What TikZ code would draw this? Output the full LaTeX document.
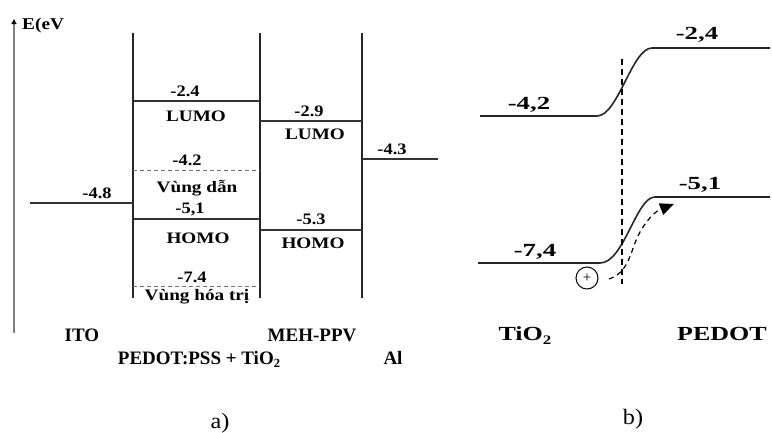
\documentclass[tikz,border=0pt]{standalone}
\usepackage{fontspec}
\setmainfont{Liberation Serif}
\usepackage{graphicx}
\usetikzlibrary{arrows.meta}
\newcommand{\wx}[2]{\scalebox{#1}[1]{#2}}
\begin{document}
\begin{tikzpicture}[x=1pt,y=-1pt,
  col/.style={line width=1.1pt, black!85},
  lvl/.style={line width=1.1pt, black!80},
  dlvl/.style={line width=1pt, black!55, dash pattern=on 4pt off 3pt},
  num/.style={inner sep=0pt, anchor=base, font=\bfseries\fontsize{16}{16}\selectfont},
  wrd/.style={inner sep=0pt, anchor=base, font=\bfseries\fontsize{16}{16}\selectfont},
  mat/.style={inner sep=0pt, anchor=base, font=\bfseries\fontsize{19}{19}\selectfont},
  rnum/.style={inner sep=0pt, anchor=base, font=\bfseries\fontsize{18.5}{18.5}\selectfont},
  rlab/.style={inner sep=0pt, anchor=base, font=\bfseries\fontsize{20}{20}\selectfont},
  caplab/.style={inner sep=0pt, anchor=base, font=\fontsize{22}{22}\selectfont},
  band/.style={line width=1.6pt, black!85},
  vdash/.style={line width=1.2pt, black, dash pattern=on 6pt off 4pt}]
\useasboundingbox (0,0) rectangle (772,432);

% ---------- panel a ----------
\coordinate (ax0) at (14,333);
\coordinate (ax1) at (14,19);
\draw[line width=1.5pt, black!50, -{Triangle[length=5pt,width=5pt,fill=black,color=black]}] (ax0) -- (ax1);
\node[inner sep=0pt, anchor=base west, font=\bfseries\fontsize{16.5}{16.5}\selectfont] (E) at (22,29) {\wx{1.17}{E(eV}};

\coordinate (c1t) at (133,33); \coordinate (c1b) at (133,298);
\coordinate (c2t) at (260,33); \coordinate (c2b) at (260,298);
\coordinate (c3t) at (362,33); \coordinate (c3b) at (362,298);
\draw[col] (c1t) -- (c1b);
\draw[col] (c2t) -- (c2b);
\draw[col] (c3t) -- (c3b);

\coordinate (ito0) at (30,203);  \coordinate (ito1) at (133,203);
\coordinate (pl0) at (133,101);  \coordinate (pl1) at (260,101);
\coordinate (pc0) at (133,170);  \coordinate (pc1) at (260,170);
\coordinate (ph0) at (133,219);  \coordinate (ph1) at (260,219);
\coordinate (pv0) at (133,286);  \coordinate (pv1) at (260,286);
\coordinate (ml0) at (260,121);  \coordinate (ml1) at (362,121);
\coordinate (mh0) at (260,230);  \coordinate (mh1) at (362,230);
\coordinate (al0) at (362,159);  \coordinate (al1) at (438,159);
\draw[lvl] (ito0) -- (ito1);
\draw[lvl] (pl0) -- (pl1);
\draw[dlvl] (pc0) -- (pc1);
\draw[lvl] (ph0) -- (ph1);
\draw[dlvl] (pv0) -- (pv1);
\draw[lvl] (ml0) -- (ml1);
\draw[lvl] (mh0) -- (mh1);
\draw[lvl] (al0) -- (al1);

\node[num] (n48) at (97,198) {\wx{1.15}{-4.8}};
\node[num] (n24) at (185,96) {\wx{1.15}{-2.4}};
\node[wrd] (lumo1) at (196,121) {\wx{1.2}{LUMO}};
\node[num] (n42) at (187,165) {\wx{1.15}{-4.2}};
\node[wrd] (vd) at (197,192) {\wx{1.2}{Vùng dẫn}};
\node[num] (n51) at (190,213) {\wx{1.15}{-5,1}};
\node[wrd] (homo1) at (198,243) {\wx{1.2}{HOMO}};
\node[num] (n74) at (192,282) {\wx{1.15}{-7.4}};
\node[wrd] (vht) at (197,300) {\wx{1.2}{Vùng hóa trị}};
\node[num] (n29) at (309,116) {\wx{1.15}{-2.9}};
\node[wrd] (lumo2) at (315,139) {\wx{1.2}{LUMO}};
\node[num] (n43) at (392,154) {\wx{1.15}{-4.3}};
\node[num] (n53) at (311,224) {\wx{1.15}{-5.3}};
\node[wrd] (homo2) at (313,248) {\wx{1.2}{HOMO}};

\node[mat] (ito) at (82,341) {ITO};
\node[mat] (meh) at (312,341) {MEH-PPV};
\node[mat] (ped) at (199,364) {PEDOT:PSS + TiO\raisebox{-3pt}{\fontsize{12.5}{12.5}\selectfont 2}};
\node[mat] (al) at (393,364) {Al};
\node[caplab] (capa) at (220,428) {\wx{1.1}{a)}};

% ---------- panel b ----------
\coordinate (u0) at (480,116); \coordinate (u1) at (597,116);
\coordinate (u2) at (652,48);  \coordinate (u3) at (770,48);
\coordinate (d0) at (478,263); \coordinate (d1) at (600,263);
\coordinate (d2) at (655,197); \coordinate (d3) at (770,197);
\draw[band] (u0) -- (u1) .. controls (618,116) and (632,48) .. (u2) -- (u3);
\draw[band] (d0) -- (d1) .. controls (624,263) and (636,197) .. (d2) -- (d3);
\coordinate (dv0) at (622,59); \coordinate (dv1) at (622,284);
\draw[vdash] (dv0) -- (dv1);

\node[rnum] (r42) at (529,109) {\wx{1.45}{-4,2}};
\node[rnum] (r24) at (697,39) {\wx{1.45}{-2,4}};
\node[rnum] (r51) at (700,189) {\wx{1.45}{-5,1}};
\node[rnum] (r74) at (535,256) {\wx{1.45}{-7,4}};

\node[circle, draw, line width=1pt, minimum size=22pt, inner sep=0pt] (hole) at (587,278) {\fontsize{15}{15}\selectfont +};
\coordinate (a0) at (609,279);
\coordinate (a1) at (674,204);
\draw[line width=1.2pt, dash pattern=on 5pt off 4pt, -{Triangle[length=14pt,width=12pt]}]
  (a0) .. controls (630,272) and (630,250) .. (640,232) .. controls (648,218) and (656,211) .. (a1);

\node[rlab] (tio) at (525,340) {\wx{1.3}{TiO\raisebox{-4pt}{\fontsize{13}{13}\selectfont 2}}};
\node[rlab] (pedot) at (722,340) {\wx{1.3}{PEDOT}};
\node[caplab] (capb) at (633,424) {\wx{1.1}{b)}};
\end{tikzpicture}
\end{document}
